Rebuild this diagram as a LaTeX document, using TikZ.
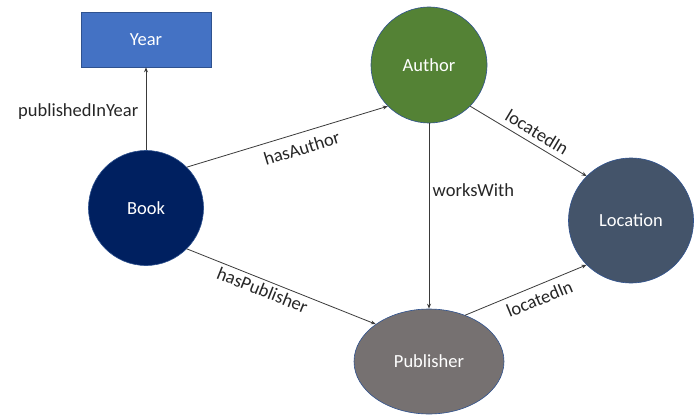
\documentclass[tikz,border=0pt]{standalone}
\usepackage{fontspec}
\setmainfont{Carlito}
\usetikzlibrary{arrows.meta,shapes.geometric}

\definecolor{yearblue}{HTML}{4472C4}
\definecolor{authorgreen}{HTML}{548235}
\definecolor{booknavy}{HTML}{002060}
\definecolor{locationslate}{HTML}{44546A}
\definecolor{publishergray}{HTML}{767171}
\definecolor{rimblue}{HTML}{2F528F}
\definecolor{linegray}{HTML}{3A3A3A}

\begin{document}
\begin{tikzpicture}[x=1pt, y=-1pt,
	entity/.style={draw=rimblue, line width=0.6pt, text=white, font=\fontsize{18.5}{20}\selectfont},
	rel/.style={-{Stealth[length=5pt,width=4pt]}, draw=linegray, line width=0.8pt},
	lbl/.style={text=black!85, font=\fontsize{18.5}{20}\selectfont}]
	\useasboundingbox (0,0) rectangle (695,417);

	% Draw classes
	\node[entity, rectangle, fill=yearblue, minimum width=130pt, minimum height=55pt] (year) at (146,39.5) {Year};
	\node[entity, circle, fill=authorgreen, minimum size=116pt] (author) at (429,65) {Author};
	\node[entity, circle, fill=booknavy, minimum size=115pt] (book) at (146,208) {Book};
	\node[entity, circle, fill=locationslate, minimum size=125pt] (location) at (631,220.5) {Location};
	\node[entity, ellipse, fill=publishergray, minimum width=150pt, minimum height=105pt] (publisher) at (429,361.5) {Publisher};

	% Draw relations
	\draw[rel] (book.north) -- node[lbl, pos=.465, left=4pt] {publishedInYear} (year.south);
	\draw[rel] (book.north east) -- node[lbl, sloped, pos=.55, below=5pt] {hasAuthor} (author.south west);
	\draw[rel] (author.south east) -- node[lbl, sloped, pos=.52, above=2pt] {locatedIn} (location.north west);
	\draw[rel] (author.south) -- node[lbl, pos=.36, right] {worksWith} (publisher.north);
	\draw[rel] (book.south east) -- node[lbl, sloped, pos=.42, below] {hasPublisher} (publisher.north west);
	\draw[rel] (publisher.52) -- node[lbl, sloped, pos=.57, below=3pt] {locatedIn} (location.south west);

\end{tikzpicture}
\end{document}
